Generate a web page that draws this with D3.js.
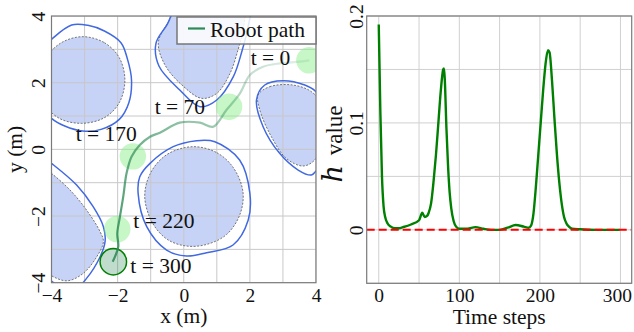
<!DOCTYPE html>
<html>
<head>
<meta charset="utf-8">
<script src="https://cdn.jsdelivr.net/npm/d3@7"></script>
<style>
  body { margin: 0; background: #fff; }
  svg text { font-family: "Liberation Serif", "Times New Roman", serif; fill: #111; }
</style>
</head>
<body>
<script>
// ---- data ----
const timeSteps = [0, 2, 4, 6, 8, 11, 15, 20, 25, 30, 40, 50, 54, 57, 60, 62, 65, 68, 71, 74, 77, 80, 81, 82, 84, 86, 88, 90, 93, 96, 100,
  110, 120, 130, 140, 150, 160, 170, 180, 186, 189, 192, 195, 198, 201, 204, 207, 210, 212, 215, 218, 221, 224, 227, 230,
  233, 236, 240, 250, 270, 299];
const hValues = [0.192, 0.11, 0.05, 0.022, 0.012, 0.006, 0.003, 0.0015, 0.0015, 0.0025, 0.005, 0.009, 0.016, 0.012, 0.013, 0.016,
  0.025, 0.045, 0.07, 0.1, 0.13, 0.15, 0.151, 0.14, 0.095, 0.06, 0.035, 0.02, 0.008, 0.003, 0.001,
  0.001, 0.0025, 0.001, 0, 0, 0.002, 0.0045, 0.003, 0.002, 0.004, 0.015, 0.04, 0.07, 0.1, 0.13, 0.155, 0.168, 0.166, 0.14, 0.105,
  0.072, 0.045, 0.025, 0.012, 0.006, 0.003, 0.001, 0.0005, 0, 0];

const pathX = [3.8, 3.51, 2.9, 2.4, 2.0, 1.7, 1.29, 0.89, 0.49, -0.12, -0.72, -1.02, -1.33, -1.58, -1.73, -1.83, -1.93, -2.01, -1.98, -2.08, -2.15];
const pathY = [2.67, 2.63, 2.58, 2.48, 2.23, 1.68, 1.18, 0.68, 0.8, 0.8, 0.5, 0.38, 0.13, -0.22, -0.72, -1.42, -2.02, -2.52, -2.92, -3.22, -3.37];

const snapT = [0, 70, 170, 220, 300];
const snapX = [3.8, 1.37, -1.54, -2.01, -2.13];
const snapY = [2.67, 1.28, -0.21, -2.39, -3.37];
const robotRadius = 0.4;

// obstacles: inner (dashed) and safety contour (blue)
const obsA = [[-3.05, 3.38], [-2.4, 3.2], [-1.95, 2.75], [-1.78, 2.08], [-1.95, 1.4], [-2.4, 0.95], [-3.1, 0.78], [-3.8, 0.95], [-4.3, 1.5], [-4.35, 2.1], [-4.2, 2.7], [-3.7, 3.2]];
const obsAOuter = [[-3.39, 3.73], [-2.9, 3.72], [-2.4, 3.55], [-1.9, 3.2], [-1.7, 2.7], [-1.58, 2.08], [-1.66, 1.4], [-1.95, 0.9], [-2.5, 0.6], [-3.05, 0.55], [-3.6, 0.7], [-4.0, 0.93], [-4.3, 1.3], [-4.3, 3.0], [-4.0, 3.3]];
const obsB = [[-0.1, 4.4], [-0.45, 3.85], [-0.77, 3.2], [-0.55, 2.5], [0.0, 1.88], [0.54, 1.53], [1.0, 1.68], [1.4, 2.28], [1.64, 2.98], [1.8, 3.6], [1.8, 4.4], [0.8, 4.6]];
const obsBOuter = [[-0.15, 4.4], [-0.5, 3.75], [-0.84, 3.18], [-0.75, 2.5], [-0.12, 1.78], [0.49, 1.28], [1.0, 1.48], [1.5, 2.18], [1.77, 2.98], [1.95, 3.7], [2.0, 4.4], [0.9, 4.7]];
const obsC = [[2.25, 1.63], [2.6, 1.88], [3.3, 1.93], [3.86, 1.73], [4.2, 1.3], [4.2, 0.2], [3.96, -0.32], [3.61, -0.5], [3.1, -0.27], [2.65, 0.38], [2.3, 1.18]];
const obsCOuter = [[2.2, 1.48], [2.45, 1.93], [3.0, 2.06], [3.66, 1.93], [4.0, 1.73], [4.3, 1.2], [4.3, -0.3], [4.0, -0.65], [3.86, -0.77], [3.46, -0.62], [2.9, -0.12], [2.4, 0.68]];
const obsD = [[0.28, 0.08], [1.0, -0.1], [1.5, -0.55], [1.79, -1.27], [1.7, -1.95], [1.3, -2.55], [0.7, -2.85], [0.08, -2.9], [-0.5, -2.7], [-0.95, -2.2], [-1.18, -1.42], [-1.0, -0.7], [-0.5, -0.15]];
const obsDOuter = [[-0.32, 0.08], [0.39, 0.26], [0.94, 0.23], [1.69, -0.32], [2.0, -1.32], [1.95, -2.12], [1.49, -2.87], [0.69, -3.1], [0.08, -3.2], [-0.52, -3.02], [-1.12, -2.32], [-1.38, -1.32], [-1.33, -0.82], [-1.02, -0.42]];
const obsE = [[-4.3, -0.5], [-4.0, -0.72], [-3.44, -1.22], [-2.94, -1.82], [-2.53, -2.47], [-2.43, -2.77], [-2.63, -3.22], [-3.04, -3.72], [-3.49, -3.94], [-3.84, -3.87], [-4.2, -3.6], [-4.5, -2.0]];
const obsEOuter = [[-4.3, -0.2], [-4.0, -0.42], [-3.24, -1.07], [-2.74, -1.72], [-2.43, -2.32], [-2.38, -2.77], [-2.53, -3.22], [-2.94, -3.87], [-3.3, -4.2], [-3.7, -4.15], [-4.0, -3.95], [-4.4, -3.6], [-4.5, -1.0]];
const obstacles = [obsA, obsB, obsC, obsD, obsE];
const contours = [obsAOuter, obsBOuter, obsCOuter, obsDOuter, obsEOuter];

const mapTicks = [-4, -2, 0, 2, 4];
const timeTicks = [0, 100, 200, 300];
const hTicks = [0, 0.1, 0.2];

// ---- layout ----
const width = 634, height = 332;
const L = { left: 51.5, right: 316, top: 16, bottom: 282.7 };
const R = { left: 366.7, right: 631.7, top: 16, bottom: 283.3 };
const tickFont = "19.5px";
const labelFont = "21.5px";

const svg = d3.select("body").append("svg").attr("width", width).attr("height", height);

const defs = svg.append("defs");
defs.append("clipPath").attr("id", "clipL").append("rect")
  .attr("x", L.left).attr("y", L.top).attr("width", L.right - L.left).attr("height", L.bottom - L.top);
defs.append("clipPath").attr("id", "clipR").append("rect")
  .attr("x", R.left).attr("y", R.top).attr("width", R.right - R.left).attr("height", R.bottom - R.top);

// ================= left: map =================
const xMap = d3.scaleLinear().domain([-4, 4]).range([L.left, L.right]);
const yMap = d3.scaleLinear().domain([-4, 4]).range([L.bottom, L.top]);

const gL = svg.append("g");
const plotL = gL.append("g").attr("clip-path", "url(#clipL)");

const shapeLine = d3.line()
  .x((d) => xMap(d[0]))
  .y((d) => yMap(d[1]))
  .curve(d3.curveCatmullRomClosed.alpha(0.5));

plotL.selectAll("path.obs")
  .data(obstacles)
  .join("path")
  .attr("class", "obs")
  .attr("d", shapeLine)
  .attr("fill", "#4169e1")
  .attr("fill-opacity", 0.3)
  .attr("stroke", "none");

// grid over the fill
const gridL = plotL.append("g");
gridL.selectAll("line.gx")
  .data(d3.range(-4, 5, 1))
  .join("line")
  .attr("x1", (d) => xMap(d)).attr("x2", (d) => xMap(d))
  .attr("y1", L.top).attr("y2", L.bottom)
  .attr("stroke", "#c8c8c8").attr("stroke-width", 1);
gridL.selectAll("line.gy")
  .data(d3.range(-4, 5, 1))
  .join("line")
  .attr("y1", (d) => yMap(d)).attr("y2", (d) => yMap(d))
  .attr("x1", L.left).attr("x2", L.right)
  .attr("stroke", "#c8c8c8").attr("stroke-width", 1);

plotL.selectAll("path.obsEdge")
  .data(obstacles)
  .join("path")
  .attr("class", "obsEdge")
  .attr("d", shapeLine)
  .attr("fill", "none")
  .attr("stroke", "#555")
  .attr("stroke-width", 0.8)
  .attr("stroke-dasharray", "2,1.5");

plotL.selectAll("path.contour")
  .data(contours)
  .join("path")
  .attr("class", "contour")
  .attr("d", shapeLine)
  .attr("fill", "none")
  .attr("stroke", "#4169e1")
  .attr("stroke-width", 1.5);

// snapshots
plotL.selectAll("circle.snap")
  .data(snapT)
  .join("circle")
  .attr("class", "snap")
  .attr("cx", (d, i) => xMap(snapX[i]))
  .attr("cy", (d, i) => yMap(snapY[i]))
  .attr("r", xMap(robotRadius) - xMap(0))
  .attr("fill", (d, i) => (i === snapT.length - 1 ? "#2e8b57" : "#90ee90"))
  .attr("fill-opacity", (d, i) => (i === snapT.length - 1 ? 0.3 : 0.5))
  .attr("stroke", (d, i) => (i === snapT.length - 1 ? "green" : "none"))
  .attr("stroke-width", 1.5);

// robot path, fading in with time
const grad = defs.append("linearGradient")
  .attr("id", "pathGrad")
  .attr("gradientUnits", "userSpaceOnUse")
  .attr("x1", xMap(pathX[0])).attr("y1", yMap(pathY[0]))
  .attr("x2", xMap(pathX[pathX.length - 1])).attr("y2", yMap(pathY[pathY.length - 1]));
grad.append("stop").attr("offset", "0%").attr("stop-color", "#2e8b57").attr("stop-opacity", 0.12);
grad.append("stop").attr("offset", "55%").attr("stop-color", "#2e8b57").attr("stop-opacity", 0.6);
grad.append("stop").attr("offset", "100%").attr("stop-color", "#2e8b57").attr("stop-opacity", 0.9);

plotL.append("path")
  .datum(pathX.map((x, i) => [x, pathY[i]]))
  .attr("d", d3.line().x((d) => xMap(d[0])).y((d) => yMap(d[1])).curve(d3.curveCatmullRom.alpha(0.5)))
  .attr("fill", "none")
  .attr("stroke", "url(#pathGrad)")
  .attr("stroke-width", 2.2);

// snapshot labels (offsets in px from the circle centre)
const labelOffset = [
  { dx: -19, dy: 5, anchor: "end" },
  { dx: -24, dy: 7, anchor: "end" },
  { dx: 4, dy: -15, anchor: "end" },
  { dx: 16, dy: -1.5, anchor: "start" },
  { dx: 17, dy: 11.5, anchor: "start" },
];
gL.selectAll("text.snapLabel")
  .data(snapT)
  .join("text")
  .attr("class", "snapLabel")
  .attr("x", (d, i) => xMap(snapX[i]) + labelOffset[i].dx)
  .attr("y", (d, i) => yMap(snapY[i]) + labelOffset[i].dy)
  .attr("text-anchor", (d, i) => labelOffset[i].anchor)
  .style("font-size", labelFont)
  .text((d) => `t = ${d}`);

// frame
gL.append("rect")
  .attr("x", L.left).attr("y", L.top)
  .attr("width", L.right - L.left).attr("height", L.bottom - L.top)
  .attr("fill", "none").attr("stroke", "#7a7a7a").attr("stroke-width", 1.2);

// axes
const axXL = gL.append("g")
  .attr("transform", `translate(0, ${L.bottom})`)
  .call(d3.axisBottom(xMap).tickValues(mapTicks).tickSize(0).tickPadding(5).tickFormat(d3.format("d")));
axXL.select(".domain").remove();
axXL.selectAll("text").style("font-size", tickFont).attr("fill", "#111");

const axYL = gL.append("g")
  .attr("transform", `translate(${L.left}, 0)`)
  .call(d3.axisLeft(yMap).tickValues(mapTicks).tickSize(0).tickFormat(d3.format("d")));
axYL.select(".domain").remove();
axYL.selectAll("text")
  .attr("transform", "rotate(-90)")
  .attr("x", 0).attr("y", -6.5).attr("dy", 0)
  .attr("text-anchor", "middle")
  .style("font-size", tickFont).attr("fill", "#111");

gL.append("text")
  .attr("x", (L.left + L.right) / 2).attr("y", 323)
  .attr("text-anchor", "middle")
  .style("font-size", labelFont)
  .text("x (m)");
gL.append("text")
  .attr("transform", `translate(21.5, ${(L.top + L.bottom) / 2}) rotate(-90)`)
  .attr("text-anchor", "middle")
  .style("font-size", labelFont)
  .text("y (m)");

// legend
const legend = gL.append("g").attr("transform", "translate(177, 17)");
legend.append("rect")
  .attr("width", 139).attr("height", 27)
  .attr("fill", "#fff").attr("fill-opacity", 0.85)
  .attr("stroke", "#777").attr("stroke-width", 1.5);
legend.append("line")
  .attr("x1", 11).attr("x2", 28).attr("y1", 11.5).attr("y2", 11.5)
  .attr("stroke", "#2e8b57").attr("stroke-width", 2.2);
legend.append("text")
  .attr("x", 33).attr("y", 19.5)
  .style("font-size", labelFont)
  .text("Robot path");

// ================= right: h value =================
const xT = d3.scaleLinear().domain([-14.95, 313.95]).range([R.left, R.right]);
const yH = d3.scaleLinear().domain([-0.05, 0.2]).range([R.bottom, R.top]);

const gR = svg.append("g");
gR.selectAll("line.gx")
  .data(d3.range(0, 301, 50))
  .join("line")
  .attr("x1", (d) => xT(d)).attr("x2", (d) => xT(d))
  .attr("y1", R.top).attr("y2", R.bottom)
  .attr("stroke", "#d0d0d0").attr("stroke-width", 1);
gR.selectAll("line.gy")
  .data(d3.range(-0.05, 0.2001, 0.05))
  .join("line")
  .attr("y1", (d) => yH(d)).attr("y2", (d) => yH(d))
  .attr("x1", R.left).attr("x2", R.right)
  .attr("stroke", "#d0d0d0").attr("stroke-width", 1);

const plotR = gR.append("g").attr("clip-path", "url(#clipR)");
plotR.append("path")
  .datum(timeSteps.map((t, i) => [t, hValues[i]]))
  .attr("d", d3.line().x((d) => xT(d[0])).y((d) => yH(d[1])).curve(d3.curveMonotoneX))
  .attr("fill", "none")
  .attr("stroke", "green")
  .attr("stroke-width", 2.4);

plotR.append("line")
  .attr("x1", R.left).attr("x2", R.right)
  .attr("y1", yH(0)).attr("y2", yH(0))
  .attr("stroke", "red")
  .attr("stroke-width", 2)
  .attr("stroke-dasharray", "8,4");

gR.append("rect")
  .attr("x", R.left).attr("y", R.top)
  .attr("width", R.right - R.left).attr("height", R.bottom - R.top)
  .attr("fill", "none").attr("stroke", "#7a7a7a").attr("stroke-width", 1.2);

const axXR = gR.append("g")
  .attr("transform", `translate(0, ${R.bottom})`)
  .call(d3.axisBottom(xT).tickValues(timeTicks).tickSize(0).tickPadding(5));
axXR.select(".domain").remove();
axXR.selectAll("text").style("font-size", tickFont).attr("fill", "#111")
  .attr("dx", (d) => (d === 300 ? -3.5 : 0));

const axYR = gR.append("g")
  .attr("transform", `translate(${R.left}, 0)`)
  .call(d3.axisLeft(yH).tickValues(hTicks).tickSize(0).tickFormat((d) => (d === 0 ? "0" : d3.format(".1f")(d))));
axYR.select(".domain").remove();
axYR.selectAll("text")
  .attr("transform", "rotate(-90)")
  .attr("x", 0).attr("y", -4).attr("dy", 0)
  .attr("text-anchor", "middle")
  .style("font-size", tickFont).attr("fill", "#111");

gR.append("text")
  .attr("x", (R.left + R.right) / 2).attr("y", 324)
  .attr("text-anchor", "middle")
  .style("font-size", labelFont)
  .text("Time steps");

const yLab = gR.append("text")
  .attr("transform", `translate(341.5, 144) rotate(-90)`)
  .attr("text-anchor", "middle");
yLab.append("tspan").style("font-family", "'DejaVu Serif', serif").style("font-style", "italic").style("font-size", "27px").text("h");
yLab.append("tspan").attr("dx", 4).style("font-size", "23px").text(" value");
</script>
</body>
</html>
